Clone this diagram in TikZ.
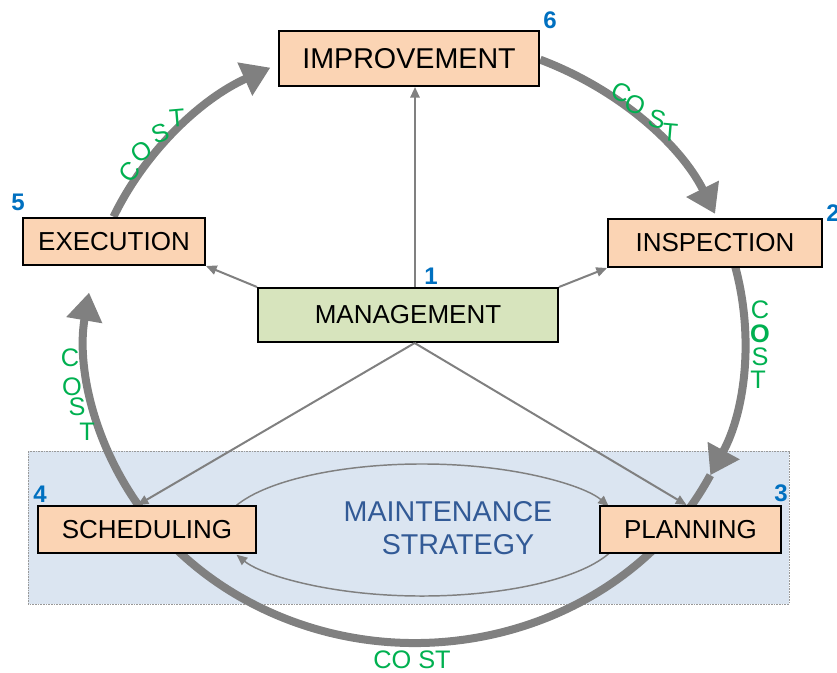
\documentclass[tikz,border=0pt]{standalone}
\usepackage{fontspec}
\setmainfont{Liberation Sans}
\usetikzlibrary{arrows.meta}
\definecolor{boxpeach}{RGB}{251,212,180}
\definecolor{boxolive}{RGB}{215,228,189}
\definecolor{stratfill}{RGB}{219,229,241}
\definecolor{costgreen}{RGB}{0,176,80}
\definecolor{stepblue}{RGB}{0,112,192}
\definecolor{stratblue}{RGB}{50,90,150}
\definecolor{ringgray}{RGB}{128,128,128}
\tikzset{every picture/.style={line width=0.75pt}}
\tikzset{
  stagebox/.style={draw=black, line width=1.5pt, fill=boxpeach, inner sep=0pt, font=\fontsize{19.5}{23}\selectfont},
  ring/.style={draw=ringgray, line width=6pt},
  ringtip/.style={-{Triangle[length=21pt,width=26pt]}},
  thinlink/.style={draw=ringgray, line width=1.5pt, -{Triangle[length=8pt,width=7pt]}},
  cost/.style={text=costgreen, inner sep=0pt, font=\fontsize{19}{22}\selectfont},
  stepno/.style={text=stepblue, inner sep=0pt, font=\fontsize{18}{20}\selectfont\bfseries},
}

\begin{document}
\begin{tikzpicture}[x=0.75pt,y=0.75pt,yscale=-1,xscale=1]
\useasboundingbox (0,0) rectangle (837,673);

%Shape: Rectangle, maintenance strategy area
\draw [fill=stratfill, draw=gray!80, dash pattern=on 1.2pt off 0.8pt, line width=0.6pt] (28,451) rectangle (789,604);

%Inner loop
\coordinate (loop) at (422,530);
\draw [thinlink, line width=1.1pt] (loop) ++(-159:200 and 66) arc [start angle=-159, end angle=-21, x radius=200, y radius=66];
\draw [thinlink, line width=1.1pt] (loop) ++(19:200 and 66) arc [start angle=19, end angle=158, x radius=200, y radius=66];

%Big ring, clockwise
\coordinate (hub) at (415,340);
\draw [ring, ringtip] (hub) ++(-213:330 and 303) arc [start angle=-213, end angle=-171, x radius=330, y radius=303];
\draw [ring, ringtip] (hub) ++(-156:330 and 303) arc [start angle=-156, end angle=-116, x radius=330, y radius=303];
\draw [ring, ringtip] (hub) ++(-67.7:330 and 303) arc [start angle=-67.7, end angle=-24.6, x radius=330, y radius=303];
\draw [ring, ringtip] (hub) ++(-14:330 and 303) arc [start angle=-14, end angle=26.5, x radius=330, y radius=303];
\draw [ring] (hub) ++(26.5:330 and 303) arc [start angle=26.5, end angle=147, x radius=330, y radius=303];

% Stage boxes
\node [stagebox, minimum width=195pt, minimum height=41.25pt, font=\fontsize{21.5}{25}\selectfont] (impr) at (409,58.5) {IMPROVEMENT};
\node [stagebox, minimum width=136.5pt, minimum height=35.25pt] (exec) at (114,241.5) {EXECUTION};
\node [stagebox, minimum width=160.5pt, minimum height=36pt] (insp) at (715,243) {INSPECTION};
\node [stagebox, fill=boxolive, minimum width=225pt, minimum height=40.5pt] (mgmt) at (408,315) {MANAGEMENT};
\node [stagebox, minimum width=163.5pt, minimum height=35.25pt] (sched) at (147,529.5) {SCHEDULING};
\node [stagebox, minimum width=135.75pt, minimum height=35.25pt] (plan) at (690.5,529.5) {PLANNING};

% Links from management
\draw [thinlink] ([xshift=5.25pt]mgmt.north) -- ([xshift=5.25pt]mgmt.north |- impr.south);
\draw [thinlink] (mgmt.north west) -- (exec.south east);
\draw [thinlink] (mgmt.north east) -- (insp.south west);
\draw [thinlink] ([xshift=5pt]mgmt.south) -- ([xshift=-7pt]sched.north);
\draw [thinlink] ([xshift=5pt]mgmt.south) -- ([xshift=-3pt]plan.north);

% Text Node
\node [text=stratblue, align=center, inner sep=0pt, font=\fontsize{21.5}{24.5}\selectfont] (strat) at (448,528) {MAINTENANCE\\\hspace*{15pt}STRATEGY};

% Step numbers
\node [stepno] (n1) at (431,276) {1};
\node [stepno] (n2) at (833,213) {2};
\node [stepno] (n3) at (781,493) {3};
\node [stepno] (n4) at (40,494) {4};
\node [stepno] (n5) at (18,202) {5};
\node [stepno] (n6) at (550,20) {6};

% Cost labels, upper left
\node [cost, rotate=50] (ulc) at (130,172) {C};
\node [cost, rotate=35] (ulo) at (142,152) {O};
\node [cost, rotate=20] (uls) at (160,133) {S};
\node [cost, rotate=5] (ult) at (177,118) {T};
% Cost labels, upper right
\node [cost, rotate=-25] (urc) at (621,92) {C};
\node [cost, rotate=-20] (uro) at (635,105) {O};
\node [cost, rotate=-15] (urs) at (657,119) {S};
\node [cost, rotate=-5] (urt) at (670,132) {T};
% Cost labels, right
\node [cost] (rc) at (760,310) {C};
\node [cost, font=\fontsize{19}{22}\selectfont\bfseries] (ro) at (760,334) {O};
\node [cost] (rs) at (760,357) {S};
\node [cost] (rt) at (758,380) {T};
% Cost labels, left
\node [cost] (lc) at (70,358) {C};
\node [cost] (lo) at (72,387) {O};
\node [cost] (ls) at (77,407) {S};
\node [cost] (lt) at (87,432) {T};
% Cost label, bottom
\node [cost] (bcost) at (412,660) {CO ST};

\end{tikzpicture}
\end{document}
